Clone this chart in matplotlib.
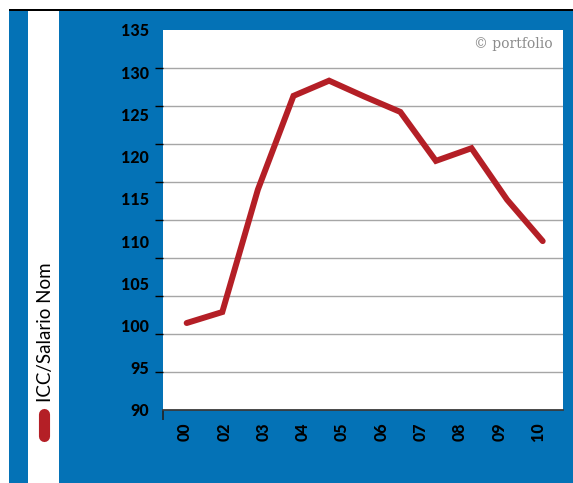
import matplotlib
matplotlib.use("Agg")
import matplotlib.pyplot as plt
import numpy as np
from matplotlib.patches import Rectangle
from matplotlib.lines import Line2D

# ---- data ----
years = ["00", "01", "02", "03", "04", "05", "06", "07", "08", "09", "10"]
values = [100.3, 101.6, 116.1, 127.2, 129.0, 127.1, 125.3, 119.5, 121.0, 114.9, 110.0]
xtick_labels = ["00", "02", "03", "04", "05", "06", "07", "08", "09", "10"]
ytick_labels = [90, 95, 100, 105, 110, 115, 120, 125, 130, 135]
series_name = "ICC/Salario Nom"
credit = "© portfolio"

BLUE = "#0472b6"
RED = "#b41f26"

W, H = 573, 483
fig = plt.figure(figsize=(W / 100, H / 100), dpi=100)
fig.patch.set_facecolor(BLUE)

def px_rect(x0, y0, x1, y1, color):
    fig.add_artist(Rectangle((x0 / W, 1 - y1 / H), (x1 - x0) / W, (y1 - y0) / H,
                             transform=fig.transFigure, facecolor=color,
                             edgecolor="none", zorder=0))

# frame decorations
px_rect(0, 0, 9, H, "white")
px_rect(0, 0, W, 8.5, "white")
px_rect(9, 8.5, W, 11, "black")
px_rect(28, 11, 59, H, "white")

ax = fig.add_axes([163 / W, 1 - 410 / H, 400 / W, 380 / H])
ax.set_facecolor("white")

x = np.arange(len(values))
ax.plot(x, values, color=RED, lw=4.3, solid_capstyle="round", solid_joinstyle="miter", zorder=3)

ax.set_xlim(-0.665, 10.57)
ax.set_ylim(90, 135)

# y axis: labels every 5, tick marks / gridlines on 10 even intervals
ax.set_yticks(ytick_labels)
ax.set_yticklabels([str(v) for v in ytick_labels])
ax.set_yticks(np.linspace(90, 135, 11), minor=True)
ax.tick_params(axis="y", which="major", length=0, pad=10)
ax.tick_params(axis="y", which="minor", length=6, width=1, color="black", direction="out")
ax.grid(axis="y", which="minor", color="#a6a6a6", lw=1)
ax.grid(axis="y", which="major", visible=False)

# x axis
ax.set_xticks(np.linspace(-0.05, 9.88, len(xtick_labels)))
ax.set_xticklabels(xtick_labels, rotation=90)
ax.set_xticks([-0.665], minor=True)
ax.tick_params(axis="x", which="major", length=0, pad=9)
ax.tick_params(axis="x", which="minor", length=7, width=1.2, color="#222222")

for lab in ax.get_yticklabels() + ax.get_xticklabels():
    lab.set_fontfamily("Lato")
    lab.set_fontweight("black")
    lab.set_fontsize(11.5)
    lab.set_color("black")

for s in ["top", "right", "left"]:
    ax.spines[s].set_visible(False)
ax.spines["bottom"].set_color("#3a3a3a")
ax.spines["bottom"].set_linewidth(1.3)

ax.text(0.975, 0.963, credit, transform=ax.transAxes, ha="right", va="center",
        fontsize=10, color="#8c8c8c", family="DejaVu Serif")

# legend in the white strip
fig.text(45 / W, 1 - 332 / H, series_name, rotation=90, ha="center", va="center",
         fontsize=13.5, family="Lato", fontweight="normal", color="black")
fig.add_artist(Line2D([44 / W, 44 / W], [1 - 414 / H, 1 - 436 / H], transform=fig.transFigure,
                      color=RED, lw=8, solid_capstyle="round"))

fig.savefig("out.png", dpi=100, facecolor=fig.get_facecolor())
